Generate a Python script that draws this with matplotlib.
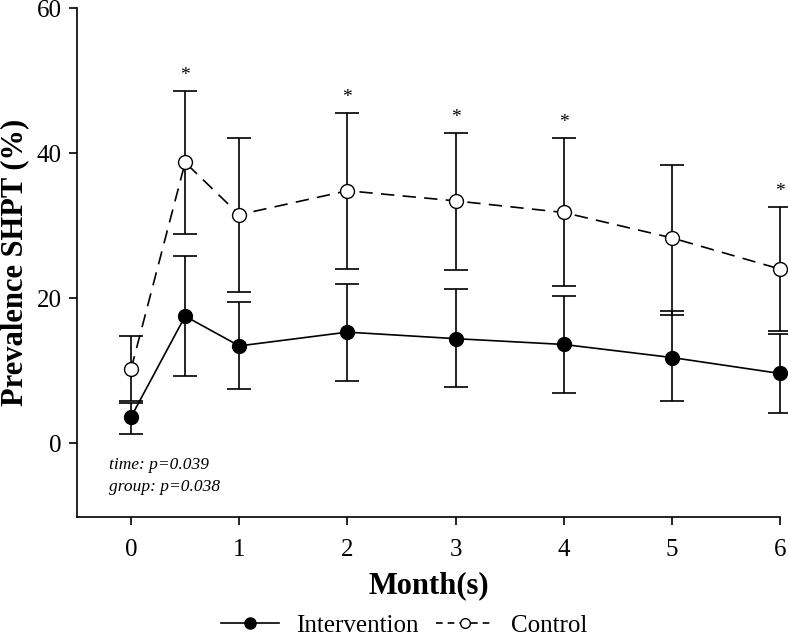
import matplotlib
matplotlib.use("Agg")
import matplotlib.pyplot as plt
from matplotlib.lines import Line2D
import numpy as np

months = [0, 0.5, 1, 2, 3, 4, 5, 6]
intervention = [3.6, 17.5, 13.4, 15.3, 14.4, 13.6, 11.8, 9.6]
interv_upper = [5.5, 25.8, 19.4, 22.0, 21.2, 20.3, 18.2, 15.0]
interv_lower = [1.3, 9.2, 7.5, 8.5, 7.7, 6.9, 5.8, 4.2]
control = [10.2, 38.7, 31.5, 34.8, 33.4, 31.8, 28.3, 24.0]
control_upper = [14.7, 48.6, 42.1, 45.5, 42.8, 42.1, 38.3, 32.6]
control_lower = [5.8, 28.8, 20.9, 24.0, 23.9, 21.6, 17.6, 15.4]
significant = [False, True, False, True, True, True, False, True]
xticks = [0, 1, 2, 3, 4, 5, 6]
yticks = [0, 20, 40, 60]

plt.rcParams['font.family'] = ['Liberation Serif', 'DejaVu Serif']

fig = plt.figure(figsize=(7.88, 6.41), dpi=100)
ax = fig.add_axes([0.0977, 0.1934, 0.8921, 0.7941])

iv = np.array(intervention)
cv = np.array(control)
ierr = [iv - np.array(interv_lower), np.array(interv_upper) - iv]
cerr = [cv - np.array(control_lower), np.array(control_upper) - cv]

dash = (0, (8, 5))
c1 = ax.errorbar(months, control, yerr=cerr, fmt='o', ls=dash, color='black',
                 mfc='white', mec='black', ms=10, lw=1.2, elinewidth=1.2,
                 capsize=8.5, capthick=1.2, zorder=3)
c2 = ax.errorbar(months, intervention, yerr=ierr, fmt='o', ls='-', color='black',
                 mfc='black', mec='black', ms=10, lw=1.2, elinewidth=1.2,
                 capsize=8.5, capthick=1.2, zorder=4)
for cont in (c1, c2):
    for ch in cont.get_children():
        ch.set_clip_on(False)

for x, up, s in zip(months, control_upper, significant):
    if s:
        ax.annotate('*', xy=(x, up), xytext=(0, 5), textcoords='offset points',
                    ha='center', va='bottom', fontsize=14, annotation_clip=False)

ax.text(-0.2, -3.0, 'time: p=0.039', style='italic', fontsize=12.5, va='center')
ax.text(-0.2, -6.1, 'group: p=0.038', style='italic', fontsize=12.5, va='center')

ax.set_xlim(-0.5, 6)
ax.set_ylim(-10.2, 60)
ax.set_xticks(xticks)
ax.set_yticks(yticks)
ax.spines['top'].set_visible(False)
ax.spines['right'].set_visible(False)
for sp in ['left', 'bottom']:
    ax.spines[sp].set_linewidth(1.2)
ax.tick_params(direction='out', length=6, width=1.2, labelsize=18)
ax.tick_params(axis='x', pad=10)
ax.tick_params(axis='y', pad=5)
ax.set_xlabel('Month(s)', fontsize=22, fontweight='bold', labelpad=7)
ax.set_ylabel('Prevalence SHPT (%)', fontsize=22, fontweight='bold',
              va='center', ha='center')
ax.yaxis.set_label_coords(-0.088, 0.5)

h_int = Line2D([], [], color='black', lw=1.2, marker='o', mfc='black', mec='black', ms=8)
h_con = Line2D([], [], color='black', lw=1.2, ls=(0, (4, 3)), marker='o', mfc='white',
               mec='black', ms=7)
fig.legend([h_int, h_con], ['Intervention', 'Control'], loc='center',
           bbox_to_anchor=(0.513, 0.024), ncol=2, frameon=False, fontsize=18,
           handlelength=2.3, columnspacing=0.7, handletextpad=0.7,
           borderpad=0, borderaxespad=0)

fig.savefig('out.png', dpi=100)
